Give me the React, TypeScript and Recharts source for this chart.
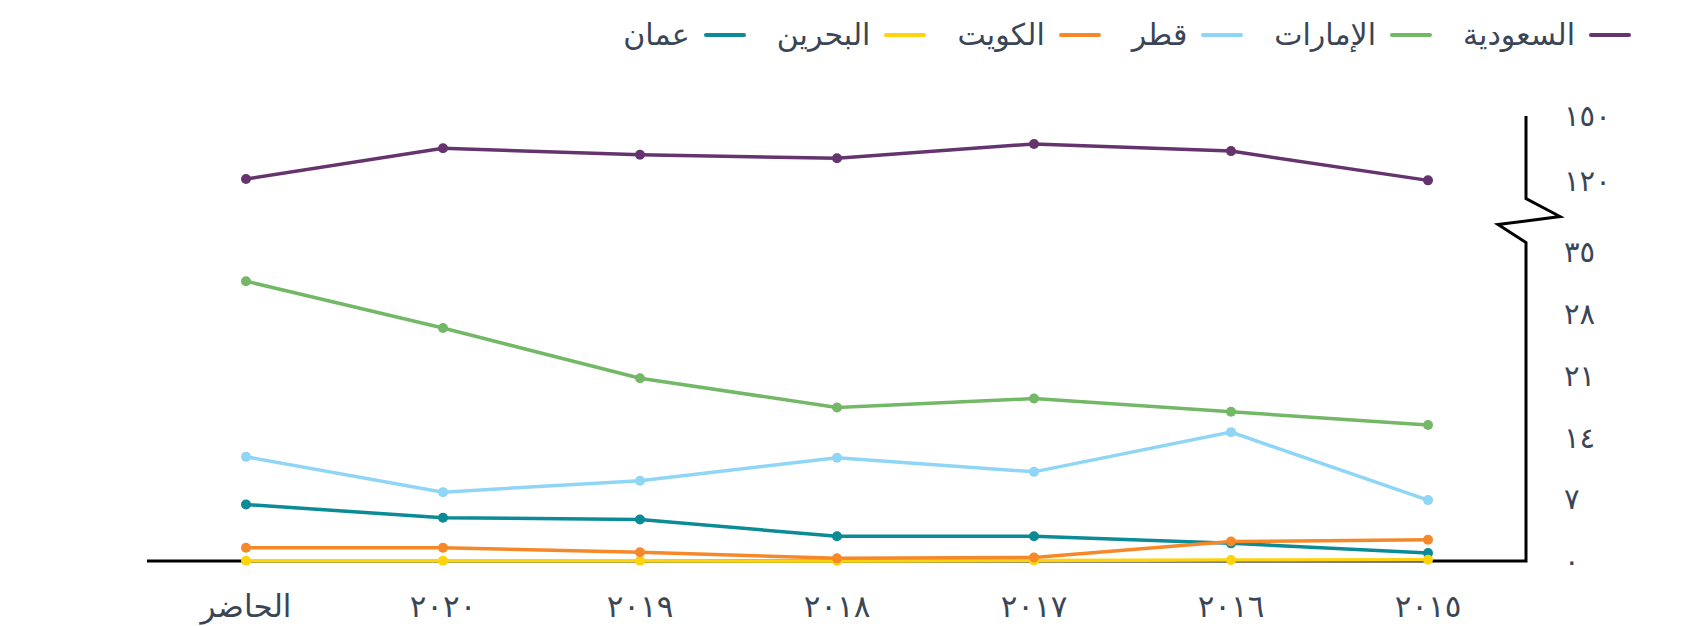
import { Line, LineChart, XAxis, YAxis } from "recharts";

const CATEGORIES = ["الحاضر", "٢٠٢٠", "٢٠١٩", "٢٠١٨", "٢٠١٧", "٢٠١٦", "٢٠١٥"];

const SAUDI = [120.9, 135.1, 132.1, 130.5, 137.1, 133.8, 120.3];
const UAE = [31.7, 26.4, 20.7, 17.4, 18.4, 16.9, 15.4];
const QATAR = [11.8, 7.8, 9.1, 11.7, 10.1, 14.6, 6.9];
const KUWAIT = [1.5, 1.5, 1.0, 0.3, 0.4, 2.2, 2.4];
const BAHRAIN = [0.02, 0.02, 0.02, 0, 0.05, 0.1, 0.15];
const OMAN = [6.4, 4.9, 4.7, 2.8, 2.8, 2.0, 0.9];

const Y_TICKS = [0, 7, 14, 21, 28, 35, 120, 150];
const Y_TICK_LABELS = ["٠", "٧", "١٤", "٢١", "٢٨", "٣٥", "١٢٠", "١٥٠"];

const SERIES = [
  { key: "sa", name: "السعودية", color: "#65346e", values: SAUDI },
  { key: "ae", name: "الإمارات", color: "#73b866", values: UAE },
  { key: "qa", name: "قطر", color: "#8fd5f6", values: QATAR },
  { key: "kw", name: "الكويت", color: "#f5892a", values: KUWAIT },
  { key: "bh", name: "البحرين", color: "#fdd40b", values: BAHRAIN },
  { key: "om", name: "عمان", color: "#0b8b95", values: OMAN },
];

// broken axis: 0–35 at full scale, a gap, then 120–150 squeezed
const LOWER_MAX = 35;
const UPPER_MIN = 120;
const GAP = 8.05;
const UPPER_SCALE = 0.2455;
const toAxis = (v: number) =>
  v <= LOWER_MAX ? v : LOWER_MAX + GAP + (v - UPPER_MIN) * UPPER_SCALE;
const Y_MAX = toAxis(150);

const W = 1685;
const H = 626;
const MARGIN = { top: 116, right: 59, bottom: 5, left: 147 };
const Y_AXIS_W = 100;
const X_AXIS_H = 60;
const PLOT_RIGHT = W - MARGIN.right - Y_AXIS_W;
const PLOT_BOTTOM = H - MARGIN.bottom - X_AXIS_H;
const PLOT_H = PLOT_BOTTOM - MARGIN.top;
const py = (v: number) => PLOT_BOTTOM - (toAxis(v) / Y_MAX) * PLOT_H;

const TEXT = "#3a4556";
const FONT = '"DejaVu Sans", sans-serif';

const data = CATEGORIES.map((cat, i) => {
  const row: Record<string, string | number> = { cat };
  SERIES.forEach((s) => {
    row[s.key] = toAxis(s.values[i]);
  });
  return row;
});

function YTick({ x, y, payload }: any) {
  const idx = Y_TICKS.findIndex((t) => Math.abs(toAxis(t) - payload.value) < 1e-6);
  return (
    <text x={x + 30} y={y} dy="0.35em" textAnchor="start" fill={TEXT} fontSize={29} fontFamily={FONT}>
      {Y_TICK_LABELS[idx] ?? ""}
    </text>
  );
}

function XTick({ x, y, payload }: any) {
  return (
    <text x={x} y={y} dy={48} textAnchor="middle" fill={TEXT} fontSize={31} fontFamily={FONT}>
      {payload.value}
    </text>
  );
}

// axis lines sit under the series, like the reference
function AxisLines() {
  const mid = (py(LOWER_MAX) + py(UPPER_MIN)) / 2 + 4;
  const x = PLOT_RIGHT;
  const d = `M${x},${MARGIN.top} L${x},${mid - 22} L${x + 34},${mid - 4} L${x - 28},${mid + 4} L${x},${mid + 22} L${x},${PLOT_BOTTOM} L${MARGIN.left},${PLOT_BOTTOM}`;
  return (
    <svg width={W} height={H} style={{ position: "absolute", left: 0, top: 0 }}>
      <path d={d} fill="none" stroke="#000" strokeWidth={3} strokeLinejoin="miter" />
    </svg>
  );
}

export default function App() {
  return (
    <div style={{ position: "absolute", left: 0, top: 0, width: W, height: H, background: "#fff" }}>
      <AxisLines />
      <div
        style={{
          position: "absolute",
          top: 16,
          right: 54,
          display: "flex",
          direction: "rtl",
          gap: 31,
          fontFamily: FONT,
          fontSize: 30,
          color: TEXT,
          lineHeight: "38px",
        }}
      >
        {SERIES.map((s) => (
          <div key={s.key} style={{ display: "flex", alignItems: "center", gap: 14 }}>
            <span style={{ width: 42, height: 4, borderRadius: 2, background: s.color, display: "inline-block" }} />
            <span>{s.name}</span>
          </div>
        ))}
      </div>
      <div style={{ position: "absolute", left: 0, top: 0 }}>
        <LineChart width={W} height={H} data={data} margin={MARGIN}>
          <XAxis
            dataKey="cat"
            height={X_AXIS_H}
            padding={{ left: 99, right: 98 }}
            interval={0}
            tickLine={false}
            axisLine={false}
            tick={<XTick />}
          />
          <YAxis
            orientation="right"
            width={Y_AXIS_W}
            type="number"
            domain={[0, Y_MAX]}
            ticks={Y_TICKS.map(toAxis)}
            interval={0}
            tickLine={false}
            axisLine={false}
            tick={<YTick />}
          />
          {[...SERIES].reverse().map((s) => (
            <Line
              key={s.key}
              type="linear"
              dataKey={s.key}
              name={s.name}
              stroke={s.color}
              strokeWidth={3.5}
              dot={{ r: 5, fill: s.color, stroke: s.color, strokeWidth: 0 }}
              isAnimationActive={false}
            />
          ))}
        </LineChart>
      </div>
    </div>
  );
}
